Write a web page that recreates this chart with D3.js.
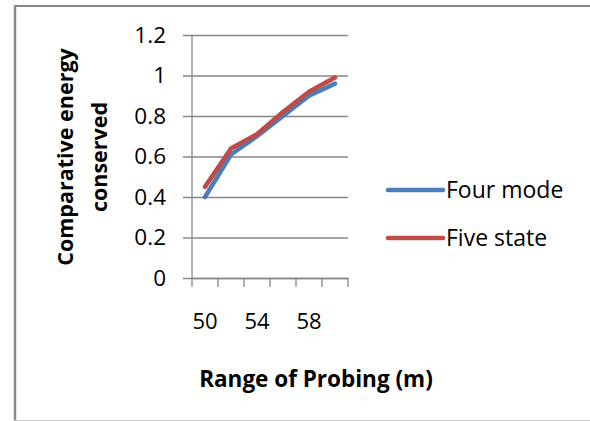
<!DOCTYPE html>
<html>
<head>
<meta charset="utf-8">
<script src="https://cdn.jsdelivr.net/npm/d3@7"></script>
<style>
  body { margin: 0; background: #fff; }
  svg { display: block; }
</style>
</head>
<body>
<div id="chart"></div>
<script>
const ranges = [50, 52, 54, 56, 58, 60];
const rangeLabels = ["50", "", "54", "", "58", ""];
const fourMode = [0.40, 0.61, 0.70, 0.80, 0.90, 0.96];
const fiveState = [0.45, 0.64, 0.71, 0.82, 0.92, 0.99];
const yTicks = [0, 0.2, 0.4, 0.6, 0.8, 1, 1.2];
const seriesNames = ["Four mode", "Five state"];

const SERIES_COLOR = {
  "Four mode": "#4a7ebb",
  "Five state": "#be4b48",
};

const width = 590;
const height = 421;
const font = "'Open Sans', sans-serif";

const svg = d3
  .select("#chart")
  .append("svg")
  .attr("width", width)
  .attr("height", height);

// chart frame
svg.append("line").attr("x1", 14).attr("x2", width).attr("y1", 6).attr("y2", 6)
  .attr("stroke", "#898989").attr("stroke-width", 2);
svg.append("line").attr("x1", 15).attr("x2", 15).attr("y1", 6).attr("y2", height)
  .attr("stroke", "#898989").attr("stroke-width", 2.5);
svg.append("line").attr("x1", 14).attr("x2", width).attr("y1", 420.5).attr("y2", 420.5)
  .attr("stroke", "#cccccc").attr("stroke-width", 1);

const x = d3.scaleBand().domain(ranges).range([192, 348]).padding(0);
const y = d3.scaleLinear().domain([0, 1.2]).range([278, 35]);

// gridlines + y axis
const yAxis = svg
  .append("g")
  .attr("transform", "translate(192,0)")
  .call(
    d3.axisLeft(y)
      .tickValues(yTicks)
      .tickSize(9)
      .tickPadding(17)
      .tickFormat(d3.format("~g"))
  );
yAxis.select(".domain").remove();
yAxis.selectAll(".tick line")
  .attr("x2", 156)
  .attr("x1", -9)
  .attr("stroke", "#868686")
  .attr("stroke-width", 1.3);
yAxis.selectAll(".tick text")
  .attr("font-family", font)
  .attr("font-size", 22.5)
  .attr("fill", "#000");

svg.append("line").attr("x1", 192).attr("x2", 192).attr("y1", 35).attr("y2", 278)
  .attr("stroke", "#868686").attr("stroke-width", 1.3);

// x axis
const xAxis = svg
  .append("g")
  .attr("transform", "translate(0,278)")
  .call(
    d3.axisBottom(x)
      .tickFormat((d, i) => rangeLabels[i])
      .tickSize(0)
      .tickPadding(35)
  );
xAxis.select(".domain").attr("stroke", "#868686").attr("stroke-width", 1.3);
xAxis.selectAll(".tick text")
  .attr("font-family", font)
  .attr("font-size", 22)
  .attr("fill", "#000");

// category boundary ticks
svg.append("g")
  .selectAll("line")
  .data(ranges.concat(["end"]))
  .join("line")
  .attr("x1", (d, i) => (i < ranges.length ? x(d) : x.range()[1]))
  .attr("x2", (d, i) => (i < ranges.length ? x(d) : x.range()[1]))
  .attr("y1", 278)
  .attr("y2", 287)
  .attr("stroke", "#868686")
  .attr("stroke-width", 1.3);

// series lines
const line = d3
  .line()
  .x((d, i) => x(ranges[i]) + x.bandwidth() / 2)
  .y((d) => y(d));

const seriesData = [fourMode, fiveState];

svg.append("g")
  .selectAll("path")
  .data(seriesData)
  .join("path")
  .attr("d", line)
  .attr("fill", "none")
  .attr("stroke", (d, i) => SERIES_COLOR[seriesNames[i]])
  .attr("stroke-width", 4.5)
  .attr("stroke-linejoin", "round")
  .attr("stroke-linecap", "round");

// legend
const legend = svg
  .append("g")
  .selectAll("g")
  .data(seriesNames)
  .join("g")
  .attr("transform", (d, i) => `translate(388,${190 + i * 48})`);

legend.append("line")
  .attr("x1", 0)
  .attr("x2", 55)
  .attr("stroke", (d) => SERIES_COLOR[d])
  .attr("stroke-width", 4.5)
  .attr("stroke-linecap", "round");

legend.append("text")
  .attr("x", 58)
  .attr("dy", "0.35em")
  .attr("font-family", font)
  .attr("font-size", 23)
  .text((d) => d);

// axis titles
svg.append("text")
  .attr("x", 316)
  .attr("y", 387)
  .attr("text-anchor", "middle")
  .attr("font-family", font)
  .attr("font-weight", "bold")
  .attr("font-size", 22.5)
  .text("Range of Probing (m)");

const yTitle = svg
  .append("text")
  .attr("transform", "translate(83,157) rotate(-90)")
  .attr("text-anchor", "middle")
  .attr("font-family", font)
  .attr("font-weight", "bold")
  .attr("font-size", 21.5);

yTitle.append("tspan").attr("x", 0).attr("y", -10).text("Comparative energy");
yTitle.append("tspan").attr("x", 0).attr("y", 24).text("conserved");
</script>
</body>
</html>
